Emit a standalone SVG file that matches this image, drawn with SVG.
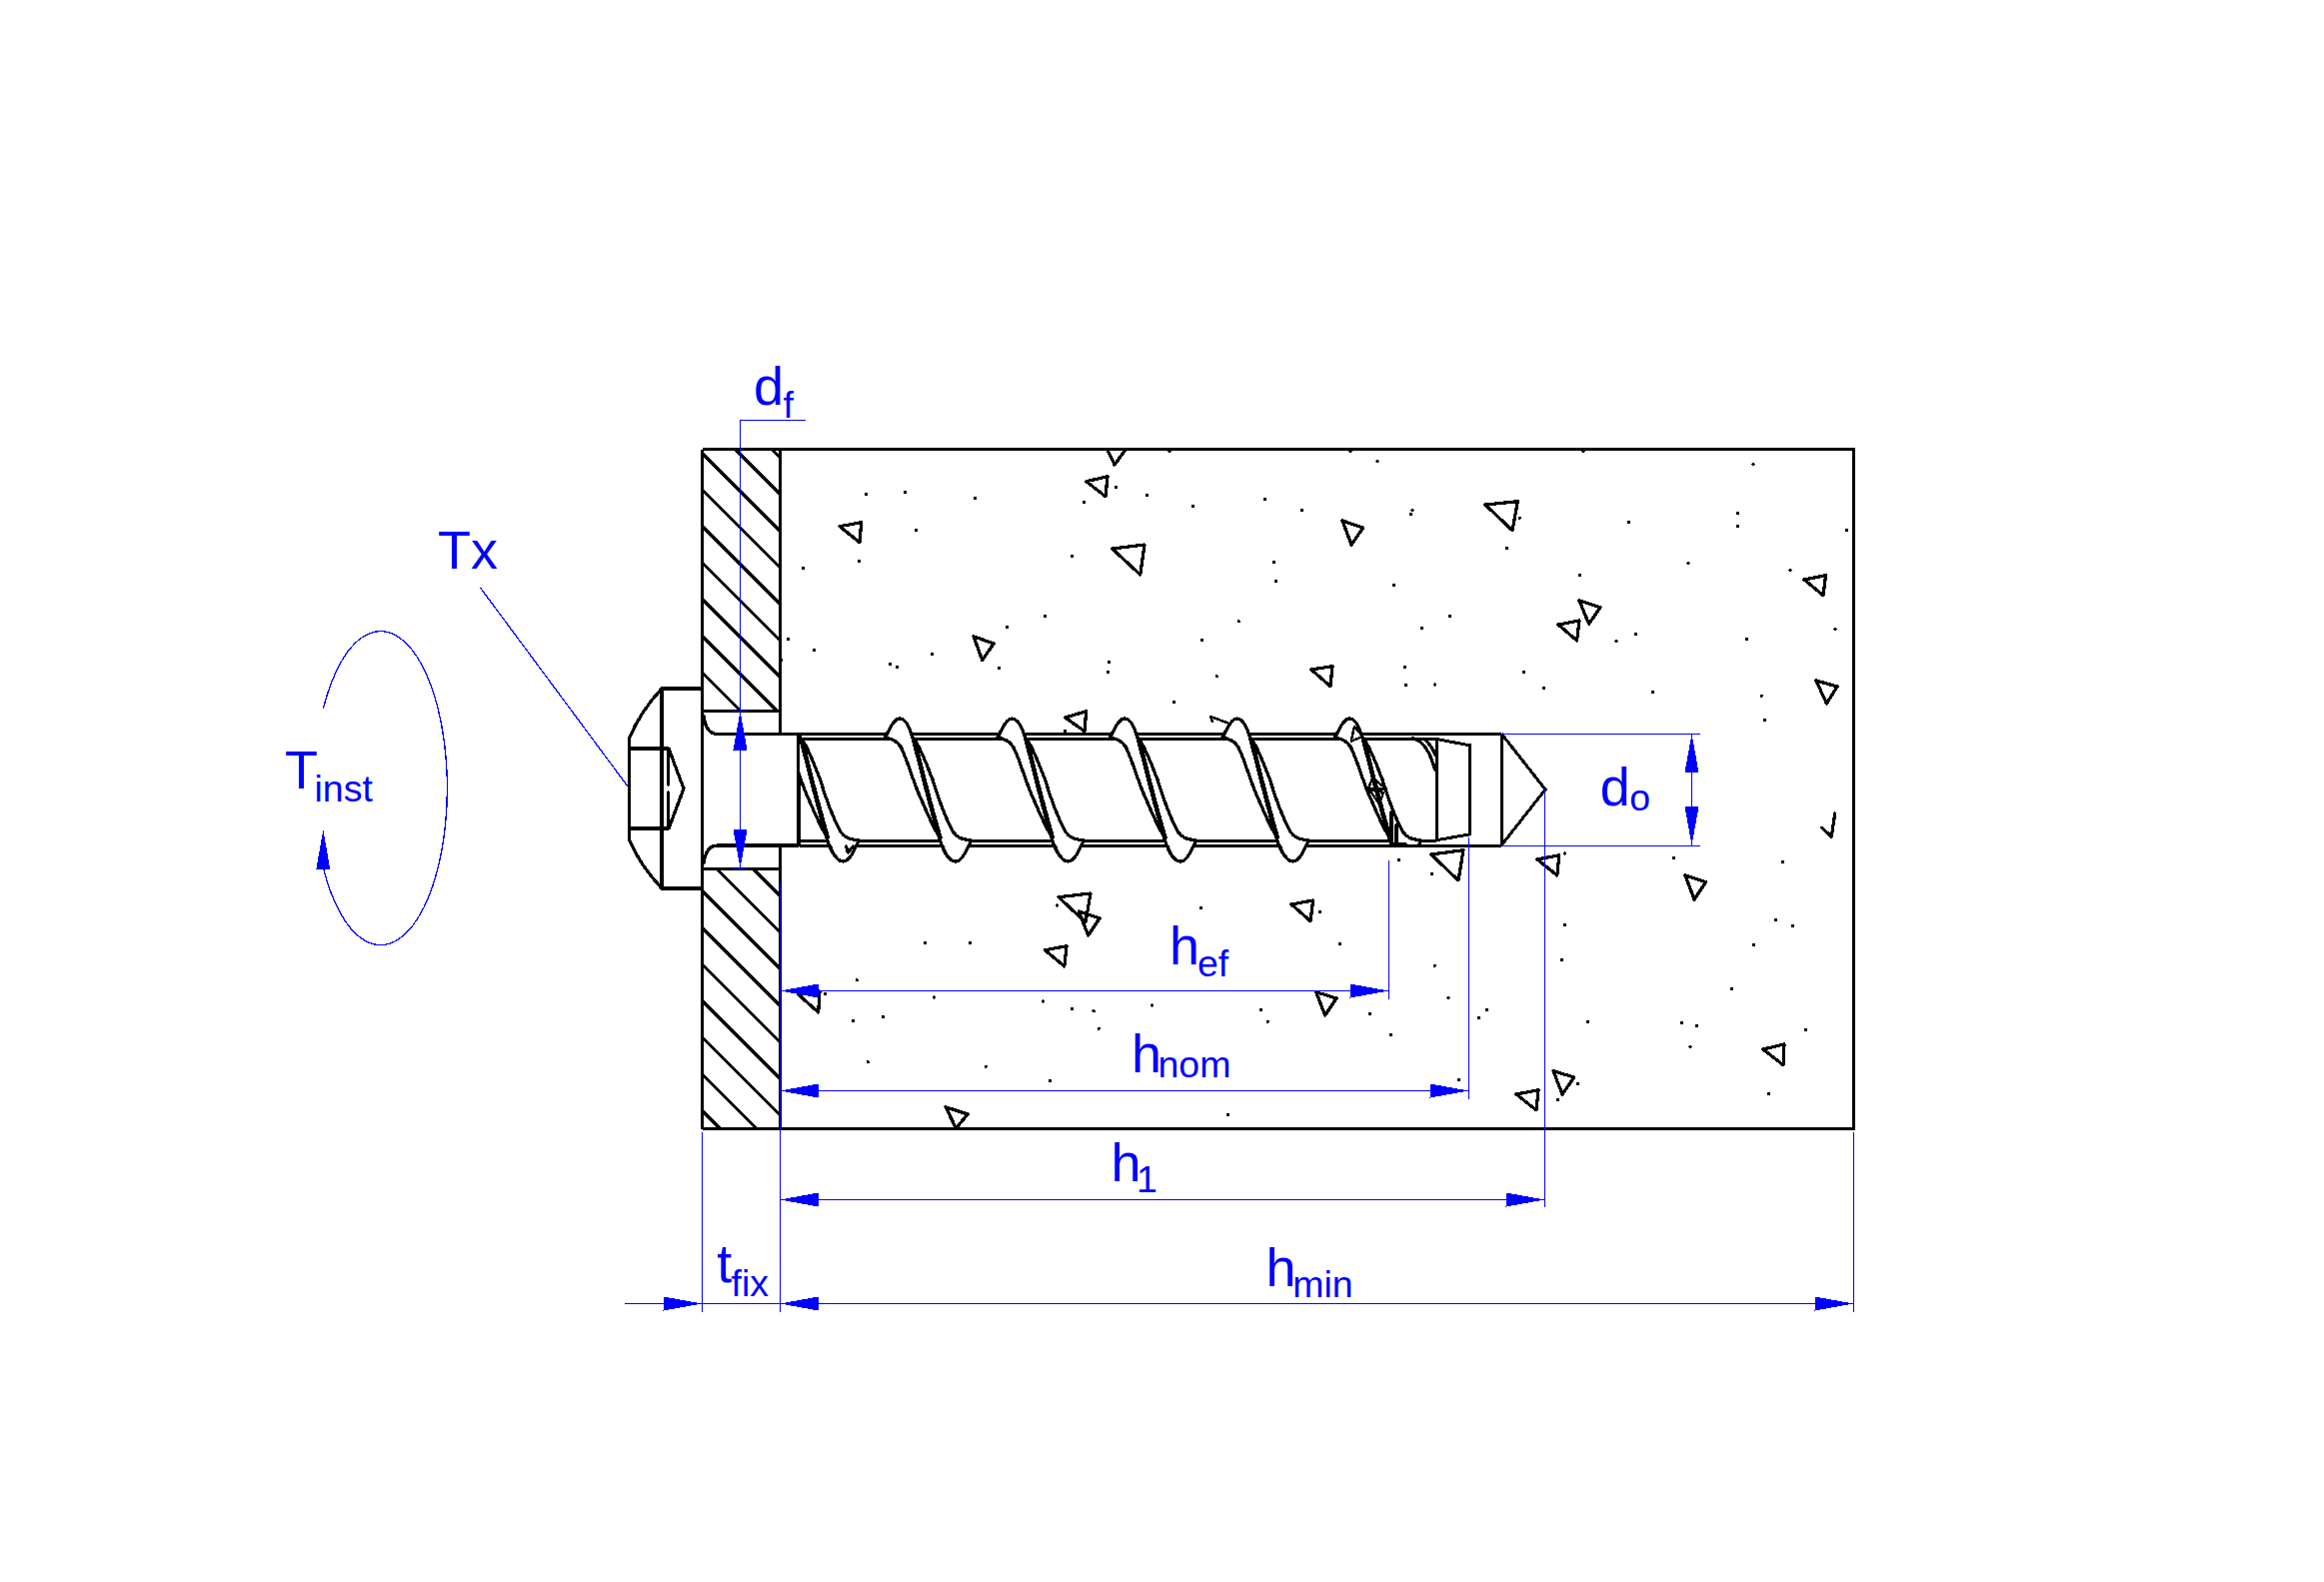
<svg xmlns="http://www.w3.org/2000/svg" width="2325" height="1583" viewBox="0 0 2325 1583">
<style>
.k{fill:none;stroke:#000;stroke-width:3;stroke-linejoin:miter;shape-rendering:crispEdges}
.h{fill:none;stroke:#000;stroke-width:3.200;shape-rendering:crispEdges}
.c{fill:none;stroke:#000;stroke-width:3.200;stroke-linecap:round;stroke-linejoin:round;shape-rendering:crispEdges}
.d{fill:none;stroke:#000;stroke-width:3.400;stroke-linecap:round;shape-rendering:crispEdges}
.w{fill:#fff;stroke:none}
.b{fill:none;stroke:#0000ff;stroke-width:1;shape-rendering:crispEdges}
.bc{fill:none;stroke:#0000ff;stroke-width:1.300;shape-rendering:crispEdges}
.f{fill:#0000ff;stroke:none;shape-rendering:crispEdges}
.a{marker-end:url(#ah)}
.s{marker-start:url(#ahs)}
text{font-family:"Liberation Sans",Arial,sans-serif;fill:#0000ff;font-size:54px}
.u{font-size:37.500px}
</style>
<defs>
<marker id="ah" markerUnits="userSpaceOnUse" markerWidth="40" markerHeight="16" refX="39" refY="7.500" orient="auto" overflow="visible"><path d="M0 0.500L39 7.500L0 14.500Z" fill="#0000ff" shape-rendering="crispEdges"/></marker>
<marker id="ahs" markerUnits="userSpaceOnUse" markerWidth="40" markerHeight="16" refX="39" refY="7.500" orient="auto-start-reverse" overflow="visible"><path d="M0 0.500L39 7.500L0 14.500Z" fill="#0000ff" shape-rendering="crispEdges"/></marker>
<clipPath id="pc"><rect x="702.500" y="449.500" width="77.500" height="261.500"/><rect x="702.500" y="869" width="77.500" height="260.500"/></clipPath>
<clipPath id="fc"><rect x="800" y="700" width="200" height="170"/></clipPath>
<clipPath id="lc"><rect x="1300" y="700" width="200" height="145"/></clipPath>
<g id="th">
<path class="w" d="M-14 737L0 719L13 738L15 740C22 750 28 768 33 780C38 797 47 820 53 831.700C57 838 62 840 71 840.700L71 842L56 862L40 840C34 828 28 815 23 803C14 785 8 760 1 747Q-5 738.500-15 738.500Z"/>
<path class="c" d="M-15 738.500Q-5 738.500 1 747C8 760 14 785 23 803C28 815 34 828 40 838"/>
<path class="c" d="M-14 737C-9 727-5 719 0 719C6 719 10 728 13 738C18 758 30 806 40 840C44 852 50 862 56 862C62 862 67 852 71 842"/>
<path class="c" d="M15 740C22 750 28 768 33 780C38 797 47 820 53 831.700C57 838 62 840 71 840.700"/>
<path class="c" d="M15.500 742C20 760 30 800 41 838"/>
</g>
</defs>

<g id="concrete">
<path class="k" d="M702.500 449.500H1854.500V1129.500H702.500"/>
<path class="d" d="M866.300 494.300h.01M905.300 492.700h.01M975.300 498.300h.01M916.300 530.300h.01M859.300 561.300h.01M803.300 568.300h.01M1084.300 502.300h.01M1116.300 487.300h.01M1147.300 495.700h.01M1072.300 556.300h.01M1045.700 616.300h.01M1007.300 627.300h.01M788.300 639.700h.01M814.300 650.300h.01M781.700 660.700h.01M890.300 664.700h.01M897.700 667.300h.01M932.300 654.300h.01M999.300 668.700h.01M1109.300 662.300h.01M1108.300 672.700h.01M1170 451.500h.01M1351 451.500h.01M1378 461.700h.01M1584 451.500h.01M1754 464.700h.01M1193.300 506.300h.01M1265.400 499.700h.01M1302.600 510.300h.01M1413 510.300h.01M1411.400 514.300h.01M1520.200 518.300h.01M1629.500 522.300h.01M1738.800 513.300h.01M1738.300 526.300h.01M1847.600 530.300h.01M1507.400 548.300h.01M1274.600 562.300h.01M1276.400 581.700h.01M1394.400 585.700h.01M1689 563.300h.01M1791 570.300h.01M1580.400 575.700h.01M1239.200 621.700h.01M1202.500 640.300h.01M1450.400 616.300h.01M1422.400 628.300h.01M1636.400 634.300h.01M1617 641.300h.01M1836 629.300h.01M1747.500 639.300h.01M1217.200 676.700h.01M1405.400 667.700h.01M1406.400 685.300h.01M1435.300 685h.01M1524.400 672.300h.01M1544.600 688.300h.01M1653.400 692.300h.01M1762.200 696.300h.01M1765.400 720.300h.01M1065.700 731.700h.01M1057.700 906h.01M925.700 943.300h.01M970.700 943.300h.01M1174.300 702.300h.01M1399.300 860.300h.01M1432.300 874.700h.01M1565.700 854h.01M1201.300 908.300h.01M1320.300 912.300h.01M1674.500 858.300h.01M1783.600 862.300h.01M1565.300 925.300h.01M1776.500 920.300h.01M1793.500 926.300h.01M1754.300 945.300h.01M1562.600 960.700h.01M1732.600 989.300h.01M1588.300 1022.300h.01M1682.400 1023.300h.01M1697.400 1026.300h.01M1806.500 1030.300h.01M1691 1047.300h.01M1578.400 1084.700h.01M1558.600 1100.300h.01M1769.400 1094.700h.01M1435.200 966.300h.01M1449 998.700h.01M1487.400 1010.300h.01M1479.500 1018.300h.01M1459.300 1080.700h.01M1370.400 1014.300h.01M1391.300 1035.300h.01M1340.300 944.300h.01M857.200 980.700h.01M825.500 994.300h.01M934.400 998h.01M1043.200 1002h.01M1072.600 1009.300h.01M1094.100 1011.700h.01M1152.500 1006h.01M1261.300 1010.300h.01M1268.200 1022.300h.01M853.600 1021.300h.01M883.400 1017.300h.01M1099.200 1029.300h.01M868.200 1062.700h.01M986.200 1067.300h.01M1050.500 1081.300h.01M1228.700 1115.300h.01"/>
<path class="c" d="M1108 450L1115 465L1126 450M1086.700 481.700L1108 476.700L1106 496.700ZM840 526.700L861.700 522.700L860 542.700ZM1112.700 549L1145 545L1140.700 575ZM974 636.700L994 644L982.700 660.700ZM1343 521L1363.700 528L1352 545ZM1486 505L1518.400 501.700L1513 530.700ZM1805 580L1826.500 575.700L1824 595.700ZM1580 601L1601 607.700L1589.600 624.300ZM1559 625L1580 621L1577.600 641ZM1311.800 670L1333 666.700L1331 686.700ZM1817 681L1838 687L1827.400 704ZM1431.700 855L1464 850.700L1459 881ZM1538 860L1559.800 855.700L1557.800 876ZM1686 876L1706.500 882.700L1695 900ZM1763.800 1050L1785 1045L1784 1065.700ZM1554 1071.700L1574.800 1078L1563 1095ZM1517 1095L1539 1090.700L1537 1111ZM1316.600 992.700L1337 999L1325.700 1016ZM1292 905L1313.600 901L1311 921.700ZM1059 897.700L1091 894L1086 923ZM1079.400 912L1100 919L1088.600 936ZM1045.500 950.700L1067 946.700L1064.800 967ZM798.500 995L820 992L818.700 1013ZM946 1107.700L968 1115L956.400 1129ZM1065.700 718L1086.700 711.700L1085 731.700ZM1835.700 814L1832.300 837.300L1822.700 828.300"/>
</g>

<g id="plate">
<path class="h" clip-path="url(#pc)" d="M702.500 380.100l77.500 77.500M702.500 416.700l77.500 77.500M702.500 453.300l77.500 77.500M702.500 489.900l77.500 77.500M702.500 526.500l77.500 77.500M702.500 563.100l77.500 77.500M702.500 599.700l77.500 77.500M702.500 636.300l77.500 77.500M702.500 672.900l77.500 77.500M702.500 818.400l77.500 77.500M702.500 855l77.500 77.500M702.500 891.700l77.500 77.500M702.500 928.300l77.500 77.500M702.500 965l77.500 77.500M702.500 1001.600l77.500 77.500M702.500 1038.200l77.500 77.500M702.500 1074.800l77.500 77.500M702.500 1111.400l77.500 77.500"/>
<path class="k" d="M702.500 449.500V1129.500M780 449.500V734M780 846V1129.500M702.500 711H780M702.500 869H780"/>
</g>

<g id="screw">
<path class="c" d="M702.500 689H662V889H702.500M662 689C650 702 637 720 629.500 739V840C637 859 650 876 662 889M629.500 749H669L684 789L669 829H629.500M668.500 749V785M668.500 793V829"/>
<path class="c" d="M704 716Q706 734.500 718 734.500H799M704 864Q706 846 718 846H799"/>
<path class="k" style="stroke-width:4" d="M799 733V847"/>
<path class="k" d="M800 734.500H1502M800 739.500H1437M800 841H1437M800 846H1502M1502 734V846"/>
<g clip-path="url(#fc)"><use href="#th" x="787.500"/></g>
<use href="#th" x="900"/>
<use href="#th" x="1012.500"/>
<use href="#th" x="1125"/>
<use href="#th" x="1237.500"/>
<g clip-path="url(#lc)"><use href="#th" x="1350"/></g>
<path class="k" d="M1502 734L1546 790L1502 846M1437 739.500L1470 745.700V835L1437 840.700M1437 739V841"/>
<path class="c" d="M1413 738.500Q1428 742 1435.500 770M1425 739.500Q1432 746 1436 755M1392 812V845H1407M1397 825V845M846.700 847L848.300 853L853.300 847"/>
<path class="c" style="stroke-width:2.400" d="M1355 726.700L1351.700 741.700L1363 737ZM1373 778.300L1386.700 789.300L1369 789.300ZM1370 790L1384 793L1380 805ZM1211 717L1213 722M1211 717L1230 724"/>
</g>

<g id="connectors">
<path class="b" d="M805.500 420.500H740.500V869M732 711.500H748M732 869.500H748"/>
<path class="b s a" d="M740.500 711.500V869"/>
<path class="bc" d="M480.700 588.300L628.300 787.300"/>
<path class="bc" d="M323.300 709.300A66.600 157 0 1 1 323.300 868"/>
<path class="f" d="M316.300 870L323.300 830L330.300 870Z"/>
<path class="b" d="M780.500 883V1313M702.500 1133V1313M1854.500 1133V1313M1389.500 861V1000M1469.500 838V1100M1545.500 790V1208M1502 734.500H1701M1502 846.500H1701"/>
<path class="b s a" d="M780 991.500H1389.500"/>
<path class="b s a" d="M780 1091.500H1469.500"/>
<path class="b s a" d="M780 1200.500H1545.500"/>
<path class="b s a" d="M780 1304.500H1854.500"/>
<path class="b a" d="M625 1304.500H702.500"/>
<path class="b" d="M702.500 1304.500H780"/>
<path class="b s a" d="M1692.500 734V846"/>
</g>

<g id="labels">
<text><tspan x="754" y="405">d</tspan><tspan class="u" x="783.500" y="417.500">f</tspan></text>
<text x="438" y="569">Tx</text>
<text><tspan x="285" y="789">T</tspan><tspan class="u" x="314.500" y="801.700">inst</tspan></text>
<text><tspan x="1170" y="965">h</tspan><tspan class="u" x="1198" y="977.300">ef</tspan></text>
<text><tspan x="1132" y="1072.700">h</tspan><tspan class="u" x="1158.500" y="1078">nom</tspan></text>
<text><tspan x="1111.500" y="1181.700">h</tspan><tspan class="u" x="1137" y="1193.300">1</tspan></text>
<text><tspan x="1266.500" y="1286.700">h</tspan><tspan class="u" x="1293.300" y="1298.300">min</tspan></text>
<text><tspan x="717.300" y="1283.300">t</tspan><tspan class="u" x="731.500" y="1296.700">fix</tspan></text>
<text><tspan x="1600.800" y="806">d</tspan><tspan class="u" x="1630.300" y="810.700">o</tspan></text>
</g>
</svg>
